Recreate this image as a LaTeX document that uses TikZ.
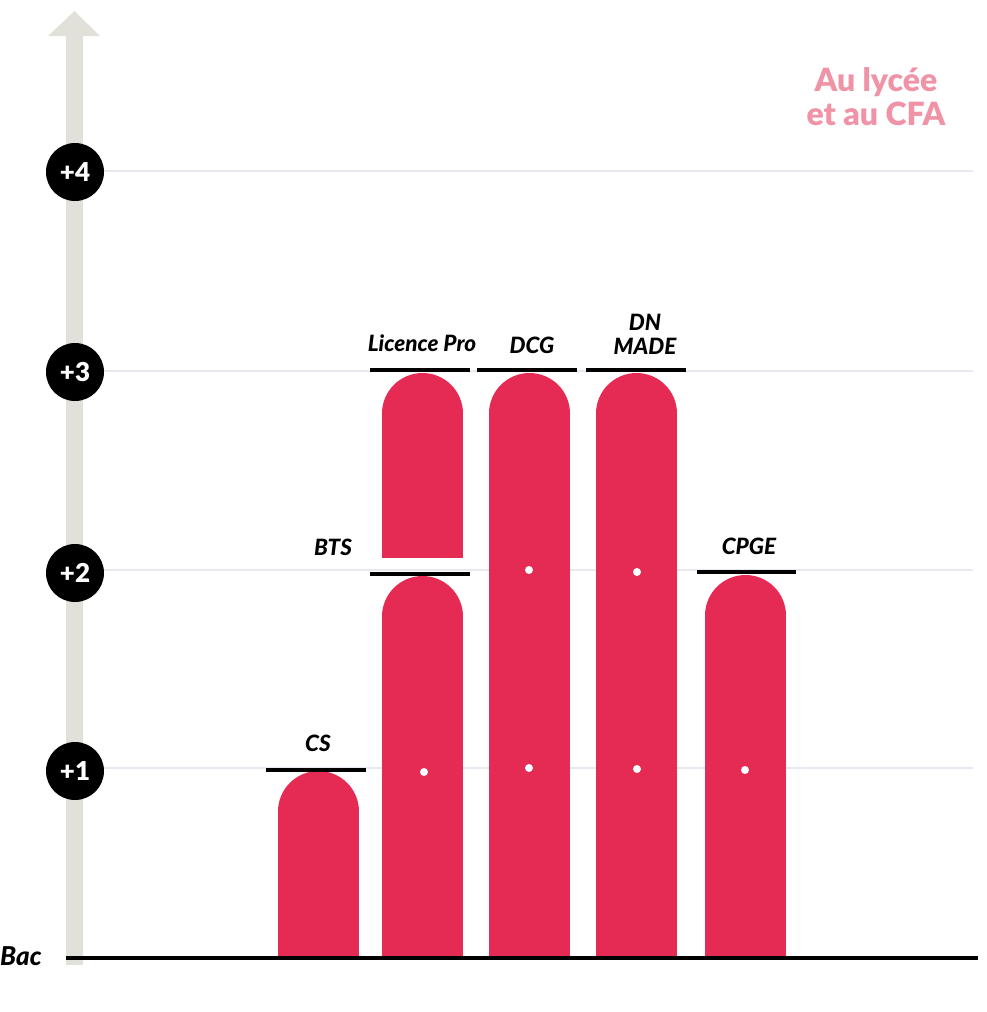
\documentclass[tikz,border=0pt]{standalone}
\usepackage{fontspec}
\setmainfont{Lato}[BoldFont={Lato Black}, BoldItalicFont={Lato Black Italic}]
\definecolor{barred}{HTML}{E52A54}
\definecolor{axisgrey}{HTML}{E1E1DA}
\definecolor{gridc}{HTML}{E9E7F0}
\definecolor{pinkt}{HTML}{F093A6}
\tikzset{
  lvl/.style={circle, fill=black, text=white, minimum size=58pt, inner sep=0pt, font=\fontsize{26}{28}\selectfont\bfseries},
  lab/.style={font=\fontsize{22.5}{24}\selectfont\bfseries\itshape, inner sep=0pt, align=center},
  tick/.style={line width=4pt, black},
  grid/.style={line width=2pt, gridc},
  dot/.style={circle, fill=white, minimum size=8pt, inner sep=0pt},
}
\begin{document}
\begin{tikzpicture}[x=1pt,y=-1pt]
\useasboundingbox (0,0) rectangle (986,1012);
% axis
\fill[axisgrey] (66,36) rectangle (83,965);
\fill[axisgrey] (48,36) -- (74.5,11) -- (100,36) -- cycle;
% grid lines
\foreach \y in {171,371,570,768} \draw[grid] (104,\y) -- (973,\y);
% bars
\newcommand{\dome}[4]{% x1 x2 top bottom
  \fill[barred] (#1,#3+40.5) rectangle (#2,#4);
  \fill[barred] ({(#1+#2)/2},#3+40.5) circle[radius=40.5pt];
}
\dome{278}{359}{771}{958}
\dome{382}{463}{576}{958}
\dome{382}{463}{373}{558}
\dome{489}{570}{373}{958}
\dome{596}{677}{373}{958}
\dome{705}{786}{575}{958}
% baseline
\draw[line width=4pt] (66,958) -- (978,958);
% ticks
\draw[tick] (266,769.5) -- (366,769.5);
\draw[tick] (370,574) -- (470,574);
\draw[tick] (370,370) -- (470,370);
\draw[tick] (477,370) -- (577,370);
\draw[tick] (586,370) -- (686,370);
\draw[tick] (697,572) -- (796,572);
% dots
\node[dot] (d1) at (424,772) {};
\node[dot] (d2) at (529,570) {};
\node[dot] (d3) at (529,768) {};
\node[dot] (d4) at (637,572) {};
\node[dot] (d5) at (637,769) {};
\node[dot] (d6) at (745,770) {};
% level circles
\node[lvl] (l4) at (75,172) {+4};
\node[lvl] (l3) at (75,372) {+3};
\node[lvl] (l2) at (75,573) {+2};
\node[lvl] (l1) at (75,771) {+1};
% labels
\node[lab] (cs) at (318,743) {CS};
\node[lab] (bts) at (333,547) {BTS};
\node[lab] (lp) at (422,343) {Licence Pro};
\node[lab] (dcg) at (532,345) {DCG};
\node[lab, font=\fontsize{22.5}{24}\selectfont\bfseries\itshape] (dn) at (645,334) {DN\\MADE};
\node[lab, font=\fontsize{26}{28}\selectfont\bfseries\itshape, anchor=west] (bac) at (0,956) {Bac};
\node[lab] (cpge) at (749,546) {CPGE};
\node[font=\fontsize{32}{34}\selectfont\bfseries, text=pinkt, align=center, inner sep=0pt] (title) at (876,97) {Au lycée\\et au CFA};
\end{tikzpicture}
\end{document}
